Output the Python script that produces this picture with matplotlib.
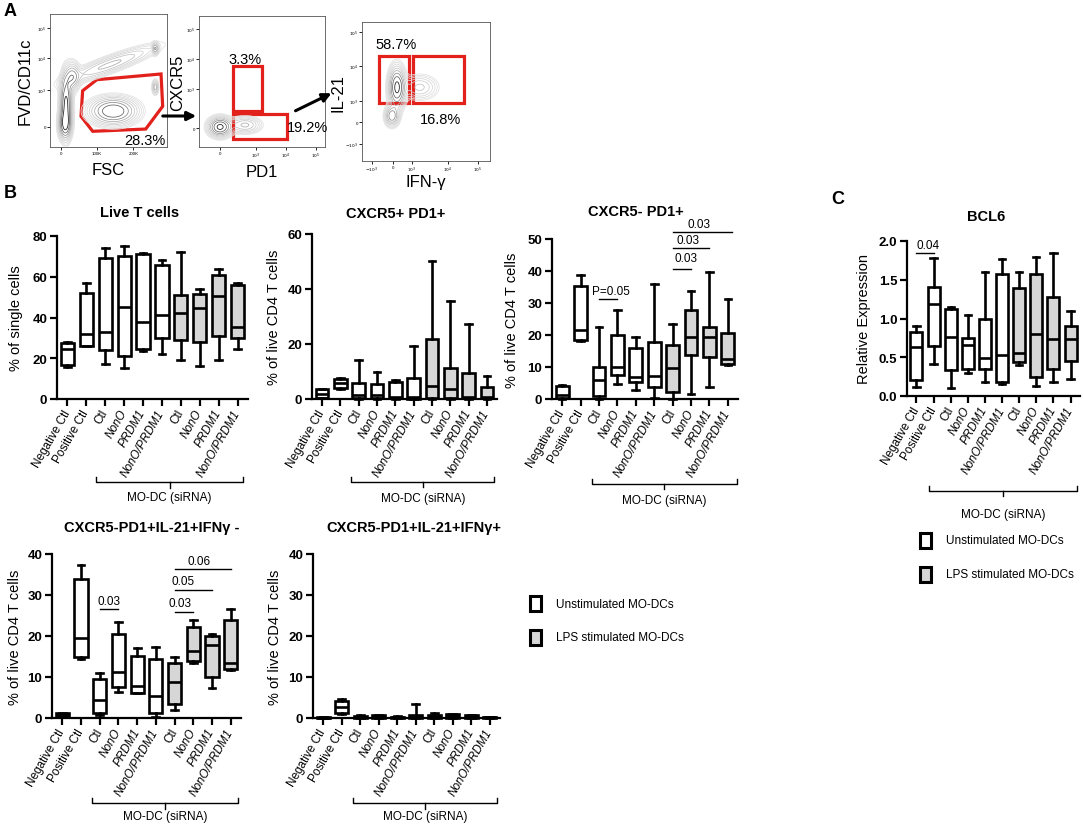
import numpy as np
import matplotlib
matplotlib.use('Agg')
import matplotlib.pyplot as plt
from matplotlib.patches import Polygon, Rectangle, FancyArrowPatch
import matplotlib.transforms as mtransforms

plt.rcParams['font.family'] = ['Liberation Sans', 'DejaVu Sans']

W, H = 1084, 828
fig = plt.figure(figsize=(W / 100, H / 100), dpi=100)


def add_ax(x0, y0, x1, y1):
    return fig.add_axes([x0 / W, 1 - y1 / H, (x1 - x0) / W, (y1 - y0) / H])


def fx(x):
    return x / W


def fy(y):
    return 1 - y / H

# ----------------------------------------------------------------- data
categories = ['Negative Ctl', 'Positive Ctl', 'Ctl', 'NonO', 'PRDM1', 'NonO/PRDM1',
              'Ctl', 'NonO', 'PRDM1', 'NonO/PRDM1']
italic_labels = [False, False, False, True, True, True, False, True, True, True]
lps_stimulated = [False] * 6 + [True] * 4

# each row: [min, q1, median, q3, max]
live_t = [[15.5, 16.8, 24.5, 27.5, 27.8], [26, 26.2, 32, 52, 57], [17, 24, 33, 69, 74],
          [15, 21, 45, 70, 75], [23.5, 24.5, 38, 71, 71.5], [22, 30, 41, 66, 68],
          [19, 29, 42, 51, 72], [16, 28, 44.5, 51.5, 54], [19, 31, 50.5, 61, 64],
          [24.5, 30, 35.5, 56, 57]]
cxcr5_pos_pd1 = [[0.2, 0.3, 1.8, 3.5, 3.8], [3.8, 4.0, 6.0, 7.3, 7.8], [0, 0.2, 1.3, 6.0, 14.2],
                 [0, 0.3, 1.4, 5.4, 9.8], [0, 0.2, 0.8, 6.3, 7.0], [0, 0.1, 0.6, 7.8, 19.2],
                 [0, 0.5, 4.8, 22, 50.2], [0, 0.3, 3.8, 11.3, 35.7], [0, 0.2, 0.8, 9.6, 27.3],
                 [0, 0.2, 0.6, 4.5, 8.2]]
cxcr5_neg_pd1 = [[0, 0.3, 1.2, 4.0, 4.4], [18.2, 18.5, 21.7, 35.2, 38.9], [0, 1.0, 6.0, 10.0, 22.4],
                 [4.6, 7.4, 10.0, 20.1, 27.7], [2.7, 5.3, 7.0, 15.9, 19.3], [0.2, 3.9, 7.1, 17.7, 35.9],
                 [0, 2.3, 9.7, 16.9, 23.3], [1.5, 13.7, 19.3, 27.7, 33.9], [3.9, 13.1, 19.5, 22.6, 39.6],
                 [10.6, 10.8, 12.4, 20.6, 31.1]]
il21_ifng_neg = [[0.3, 0.3, 0.8, 1.2, 1.3], [14.3, 14.8, 19.5, 33.8, 37.2], [0.8, 1.2, 4.3, 9.6, 11.0],
                 [6.3, 7.5, 11.2, 20.6, 23.5], [6.0, 6.2, 7.9, 15.1, 17.0], [0.3, 1.2, 5.3, 14.3, 17.2],
                 [2.0, 3.3, 8.7, 13.5, 14.8], [13.3, 13.8, 16.3, 22.3, 24.0], [7.4, 9.9, 17.9, 20.0, 20.5],
                 [11.8, 12.0, 13.5, 23.8, 26.6]]
il21_ifng_pos = [[0, 0.05, 0.1, 0.2, 0.25], [1.0, 1.3, 2.8, 4.2, 4.6], [0, 0.1, 0.3, 0.6, 0.7],
                 [0, 0.1, 0.3, 0.7, 0.8], [0, 0.05, 0.2, 0.35, 0.4], [0, 0.1, 0.3, 0.8, 3.4],
                 [0, 0.1, 0.4, 0.8, 1.2], [0, 0.1, 0.5, 0.9, 1.0], [0, 0.1, 0.4, 0.7, 0.8],
                 [0, 0.05, 0.15, 0.25, 0.3]]
bcl6 = [[0.11, 0.21, 0.63, 0.82, 0.90], [0.41, 0.64, 1.19, 1.41, 1.78], [0.10, 0.33, 0.76, 1.12, 1.15],
        [0.30, 0.35, 0.66, 0.75, 1.04], [0.18, 0.35, 0.49, 0.99, 1.60], [0.16, 0.18, 0.53, 1.58, 1.77],
        [0.40, 0.44, 0.56, 1.40, 1.60], [0.13, 0.24, 0.80, 1.58, 1.79], [0.18, 0.35, 0.74, 1.28, 1.85],
        [0.22, 0.45, 0.74, 0.90, 1.10]]

# significance: (from, to, line y, text, text x, text y)
sig_cxcr5_neg = [(2, 3, 31.2, 'P=0.05', 2.65, 33.6), (6, 7, 40.7, '0.03', 6.75, 44.0),
                 (6, 8, 47.1, '0.03', 6.85, 49.8), (6, 9.2, 52.3, '0.03', 7.45, 54.6)]
sig_il21_neg = [(2, 3, 26.6, '0.03', 2.5, 28.6), (6, 7, 25.8, '0.03', 6.3, 28.0),
                (6, 8, 31.2, '0.05', 6.45, 33.3), (6, 9, 36.3, '0.06', 7.3, 38.3)]
sig_bcl6 = [(0, 1, 1.85, '0.04', 0.7, 1.95)]

# flow cytometry populations (axes-fraction coords): cx, cy, sx, sy, angle, weight
flow1_pops = dict(cx=[0.137, 0.128, 0.54, 0.51, 0.19, 0.90, 0.90],
                  cy=[0.323, 0.17, 0.27, 0.62, 0.53, 0.74, 0.45],
                  sx=[0.028, 0.03, 0.11, 0.24, 0.035, 0.015, 0.015],
                  sy=[0.12, 0.06, 0.055, 0.035, 0.06, 0.025, 0.03],
                  ang=[0, 0, 0, 18, 0, 0, 0],
                  w=[1.0, 0.8, 0.9, 0.35, 0.5, 0.4, 0.4])
flow2_pops = dict(cx=[0.167, 0.365], cy=[0.153, 0.168], sx=[0.05, 0.07], sy=[0.04, 0.035],
                  ang=[0, 0], w=[1.0, 0.35])
flow3_pops = dict(cx=[0.273, 0.45, 0.234], cy=[0.53, 0.53, 0.324], sx=[0.035, 0.08, 0.03],
                  sy=[0.08, 0.05, 0.04], ang=[0, 0, 0], w=[1.0, 0.25, 0.6])

flow1_xticks, flow1_xlabels = [0.091, 0.40, 0.712], ['0', '100K', '200K']
flow1_yticks, flow1_ylabels = [0.153, 0.431, 0.667, 0.892], ['0', '$10^3$', '$10^4$', '$10^5$']
flow2_xticks, flow2_xlabels = [0.167, 0.452, 0.69, 0.929], ['0', '$10^3$', '$10^4$', '$10^5$']
flow2_yticks, flow2_ylabels = [0.145, 0.44, 0.672, 0.90], ['0', '$10^3$', '$10^4$', '$10^5$']
flow3_xticks, flow3_xlabels = [0.077, 0.245, 0.39, 0.67, 0.906], ['$-10^3$', '0', '$10^3$', '$10^4$', '$10^5$']
flow3_yticks, flow3_ylabels = [0.122, 0.28, 0.434, 0.685, 0.928], ['$-10^3$', '0', '$10^3$', '$10^4$', '$10^5$']

flow1_gate_x = [0.40, 0.949, 0.963, 0.818, 0.365, 0.265, 0.279]
flow1_gate_y = [0.506, 0.549, 0.306, 0.135, 0.118, 0.231, 0.423]
flow2_gates = [(0.270, 0.275, 0.23, 0.343), (0.270, 0.061, 0.428, 0.191)]
flow3_gates = [(0.133, 0.417, 0.234, 0.338), (0.398, 0.417, 0.399, 0.338)]

RED = '#e3211c'
GRAY = '#d6d6d6'

# ----------------------------------------------------------------- panel A


def density(p, X, Y):
    Z = np.zeros_like(X)
    for cx, cy, sx, sy, ang, w in zip(p['cx'], p['cy'], p['sx'], p['sy'], p['ang'], p['w']):
        t = np.deg2rad(ang)
        dx, dy = X - cx, Y - cy
        u = dx * np.cos(t) + dy * np.sin(t)
        v = -dx * np.sin(t) + dy * np.cos(t)
        Z += w * np.exp(-0.5 * ((u / sx) ** 2 + (v / sy) ** 2))
    return Z


def flow_axes(box, pops, xt, xl, yt, yl, xlabel, ylabel, ylab_x, xlab_y):
    ax = add_ax(*box)
    g = np.linspace(0, 1, 300)
    X, Y = np.meshgrid(g, g)
    Z = density(pops, X, Y)
    levels = np.geomspace(0.04, 0.9, 10)
    ax.contour(X, Y, Z, levels=levels, cmap='Greys', vmin=-0.2, vmax=1.0, linewidths=0.55)
    ax.set_xlim(0, 1)
    ax.set_ylim(0, 1)
    ax.set_xticks(xt)
    ax.set_xticklabels(xl, fontsize=3.2)
    ax.set_yticks(yt)
    ax.set_yticklabels(yl, fontsize=3.2)
    ax.tick_params(length=2, width=0.6, pad=0.8)
    for s in ax.spines.values():
        s.set_linewidth(0.6)
        s.set_color('#555555')
    ax.set_xlabel(xlabel, fontsize=12)
    ax.xaxis.set_label_coords(0.5, xlab_y)
    ax.set_ylabel(ylabel, fontsize=12)
    ax.yaxis.set_label_coords(ylab_x, 0.5)
    return ax


fa1 = flow_axes((50, 15, 167, 148), flow1_pops, flow1_xticks, flow1_xlabels, flow1_yticks,
                flow1_ylabels, 'FSC', 'FVD/CD11c', -0.15, -0.11)
fa1.add_patch(Polygon(list(zip(flow1_gate_x, flow1_gate_y)), closed=True, fill=False,
                      edgecolor=RED, lw=2.3))
fa1.text(0.81, 0.05, '28.3%', fontsize=10.5, ha='center', va='center')

fa2 = flow_axes((199, 17, 325, 148), flow2_pops, flow2_xticks, flow2_xlabels, flow2_yticks,
                flow2_ylabels, 'PD1', 'CXCR5', -0.11, -0.13)
for (x, y, w, h) in flow2_gates:
    fa2.add_patch(Rectangle((x, y), w, h, fill=False, edgecolor=RED, lw=2.3))
fa2.text(0.365, 0.67, '3.3%', fontsize=10.5, ha='center', va='center')
fa2.text(0.86, 0.153, '19.2%', fontsize=10.5, ha='center', va='center')

fa3 = flow_axes((362, 23, 490, 162), flow3_pops, flow3_xticks, flow3_xlabels, flow3_yticks,
                flow3_ylabels, 'IFN-γ', 'IL-21', -0.13, -0.09)
for (x, y, w, h) in flow3_gates:
    fa3.add_patch(Rectangle((x, y), w, h, fill=False, edgecolor=RED, lw=2.3))
fa3.text(0.27, 0.84, '58.7%', fontsize=10.5, ha='center', va='center')
fa3.text(0.61, 0.30, '16.8%', fontsize=10.5, ha='center', va='center')

for (x0, y0, x1, y1) in [(160, 117, 199, 117), (293, 113, 334, 93)]:
    fig.add_artist(FancyArrowPatch((fx(x0), fy(y0)), (fx(x1), fy(y1)), transform=fig.transFigure,
                                   arrowstyle='-|>', mutation_scale=13, lw=2.2, color='black'))

# ----------------------------------------------------------------- box plots


def box_panel(box, vals, ylim, yticks, fmt, title, title_xy, ylabel, ylab_x, bracket, sigs=None):
    ax = add_ax(*box)
    stats = [dict(whislo=v[0], q1=v[1], med=v[2], q3=v[3], whishi=v[4], fliers=[]) for v in vals]
    bp = ax.bxp(stats, positions=list(range(len(vals))), widths=0.7, patch_artist=True,
                showfliers=False, capwidths=0.36,
                boxprops=dict(linewidth=1.9, edgecolor='black'),
                whiskerprops=dict(linewidth=1.9, color='black'),
                capprops=dict(linewidth=1.9, color='black'),
                medianprops=dict(linewidth=1.9, color='black'))
    for patch, g in zip(bp['boxes'], lps_stimulated):
        patch.set_facecolor(GRAY if g else 'white')
    for key in ['boxes', 'whiskers', 'caps', 'medians']:
        for a in bp[key]:
            a.set_clip_on(False)
    ax.set_xlim(-0.55, 9.55)
    ax.set_ylim(*ylim)
    for s in ['top', 'right']:
        ax.spines[s].set_visible(False)
    for s in ['left', 'bottom']:
        ax.spines[s].set_linewidth(1.6)
    ax.set_yticks(yticks)
    ax.set_yticklabels([fmt.format(v) for v in yticks], fontweight='bold', fontsize=9.5)
    ax.set_xticks(range(len(categories)))
    ax.set_xticklabels(categories, rotation=60, ha='right', va='center', rotation_mode='anchor',
                       fontsize=8.5)
    for lbl, it in zip(ax.get_xticklabels(), italic_labels):
        lbl.set_style('italic' if it else 'normal')
    ax.tick_params(direction='out', length=5, width=1.6, pad=2)
    ax.tick_params(axis='x', pad=3)
    ax.text(title_xy[0], title_xy[1], title, transform=ax.transAxes, fontsize=10.5,
            fontweight='bold', ha='center', va='center')
    ax.set_ylabel(ylabel, fontsize=10.5)
    ax.yaxis.set_label_coords(ylab_x, 0.5)
    # bracket under the siRNA groups
    x0, x1, yb, yt = bracket
    tr = mtransforms.blended_transform_factory(ax.transData, ax.transAxes)
    mid = (x0 + x1) / 2
    ax.plot([x0, x0, x1, x1], [yb + 0.03, yb, yb, yb + 0.03], color='black', lw=1.0,
            transform=tr, clip_on=False)
    ax.plot([mid, mid], [yb, yb - 0.035], color='black', lw=1.0, transform=tr, clip_on=False)
    ax.text(mid, yt, 'MO-DC (siRNA)', transform=tr, fontsize=8.5, ha='center', va='center')
    if sigs:
        for (a, b, yl, t, tx, ty) in sigs:
            ax.plot([a, b], [yl, yl], color='black', lw=1.0, clip_on=False)
            ax.text(tx, ty, t, fontsize=8.5, ha='center', va='center')
    return ax


box_panel((57, 237, 248, 400), live_t, (0, 80), [0, 20, 40, 60, 80], '{:.0f}', 'Live T cells',
          (0.43, 1.15), '% of single cells', -0.18, (1.5, 9.3, -0.51, -0.60))
box_panel((312, 235, 497, 400), cxcr5_pos_pd1, (0, 60), [0, 20, 40, 60], '{:.0f}', 'CXCR5+ PD1+',
          (0.45, 1.13), '% of live CD4 T cells', -0.17, (1.6, 9.4, -0.50, -0.60))
box_panel((552, 240, 738, 400), cxcr5_neg_pd1, (0, 50), [0, 10, 20, 30, 40, 50], '{:.0f}', 'CXCR5- PD1+',
          (0.45, 1.175), '% of live CD4 T cells', -0.18, (1.6, 9.5, -0.53, -0.63), sig_cxcr5_neg)
box_panel((52, 555, 241, 719), il21_ifng_neg, (0, 40), [0, 10, 20, 30, 40], '{:.0f}',
          'CXCR5-PD1+IL-21+IFNγ -', (0.53, 1.165), '% of live CD4 T cells', -0.16,
          (1.6, 9.4, -0.52, -0.60), sig_il21_neg)
box_panel((313, 555, 500, 719), il21_ifng_pos, (0, 40), [0, 10, 20, 30, 40], '{:.0f}',
          'CXCR5-PD1+IL-21+IFNγ+', (0.54, 1.165), '% of live CD4 T cells', -0.165,
          (1.6, 9.4, -0.52, -0.60))
box_panel((907, 242, 1080, 397), bcl6, (0, 2.0), [0, 0.5, 1.0, 1.5, 2.0], '{:.1f}', 'BCL6',
          (0.46, 1.16), 'Relative Expression', -0.21, (0.76, 9.35, -0.61, -0.76), sig_bcl6)

# ----------------------------------------------------------------- legends
legend_labels = ['Unstimulated MO-DCs', 'LPS stimulated MO-DCs']
legend_fill = ['white', GRAY]
for (sx, sy0) in [(530, 597), (920, 534)]:
    for i, (lab, fc) in enumerate(zip(legend_labels, legend_fill)):
        y0 = sy0 + i * 34
        fig.add_artist(Rectangle((fx(sx), fy(y0 + 15)), 11 / W, 15 / H, transform=fig.transFigure,
                                 facecolor=fc, edgecolor='black', lw=2.2))
        fig.text(fx(sx + 26), fy(y0 + 7.5), lab, fontsize=8.5, ha='left', va='center')

# panel letters
for (lab, x, y) in [('A', 10, 12), ('B', 10, 193), ('C', 838, 200)]:
    fig.text(fx(x), fy(y), lab, fontsize=13, fontweight='bold', ha='center', va='center')

fig.savefig('out.png', dpi=100)
